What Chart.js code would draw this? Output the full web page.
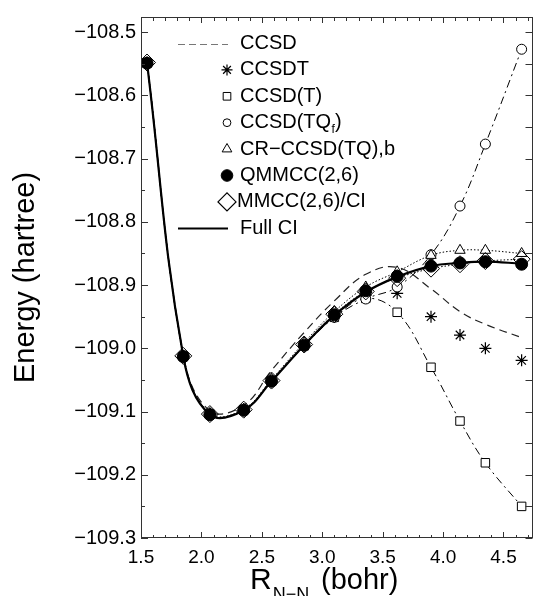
<!DOCTYPE html>
<html><head><meta charset="utf-8">
<script src="https://cdn.jsdelivr.net/npm/chart.js@4/dist/chart.umd.min.js"></script>
<style>html,body{margin:0;padding:0;background:#fff;}#wrap{position:relative;width:542px;height:596px;}</style>
</head><body><div id="wrap"><canvas id="c" width="542" height="596"></canvas></div>
<script>
// ---- data ----
const R = [1.55, 1.85, 2.07, 2.35, 2.58, 2.85, 3.10, 3.36, 3.62, 3.90, 4.14, 4.35, 4.65];
const fullCI    = [-108.549, -109.013, -109.105, -109.098, -109.052, -108.995, -108.948, -108.911, -108.887, -108.870, -108.865, -108.863, -108.866];
const ccsd      = [-108.548, -109.010, -109.099, -109.090, -109.035, -108.975, -108.925, -108.883, -108.872, -108.906, -108.942, -108.962, -108.983];
const ccsdt     = [-108.549, -109.013, -109.105, -109.098, -109.052, -108.996, -108.950, -108.916, -108.913, -108.950, -108.979, -109.000, -109.019];
const ccsdT     = [-108.549, -109.013, -109.104, -109.097, -109.052, -108.996, -108.951, -108.921, -108.943, -109.030, -109.115, -109.181, -109.250];
const ccsdTQf   = [-108.549, -109.013, -109.104, -109.097, -109.052, -108.996, -108.951, -108.922, -108.903, -108.852, -108.775, -108.677, -108.527];
const crccsdTQb = [-108.548, -109.012, -109.103, -109.096, -109.049, -108.991, -108.942, -108.903, -108.879, -108.853, -108.845, -108.845, -108.850];
const qmmcc26   = [-108.549, -109.013, -109.105, -109.098, -109.052, -108.995, -108.947, -108.909, -108.886, -108.870, -108.865, -108.863, -108.867];
const mmcc26CI  = [-108.548, -109.012, -109.104, -109.097, -109.051, -108.994, -108.946, -108.910, -108.889, -108.874, -108.867, -108.862, -108.859];
const xTickValues = [1.5, 2.0, 2.5, 3.0, 3.5, 4.0, 4.5];
const xTickLabels = ['1.5', '2.0', '2.5', '3.0', '3.5', '4.0', '4.5'];
const yTickValues = [-109.3, -109.2, -109.1, -109.0, -108.9, -108.8, -108.7, -108.6, -108.5];
const yTickLabels = ['\u2212109.3', '\u2212109.2', '\u2212109.1', '\u2212109.0', '\u2212108.9', '\u2212108.8', '\u2212108.7', '\u2212108.6', '\u2212108.5'];
const seriesNames = ['CCSD', 'CCSDT', 'CCSD(T)', 'CCSD(TQf)', 'CR\u2212CCSD(TQ),b', 'QMMCC(2,6)', 'MMCC(2,6)/CI', 'Full CI'];

const FONT = "'Liberation Sans', Arial, Helvetica, sans-serif";
const pts = arr => R.map((x, i) => ({x: x, y: arr[i]}));

const datasets = [
  {label: seriesNames[5], data: pts(qmmcc26), showLine: false, pointStyle: 'circle', pointRadius: 6,
   backgroundColor: '#000', borderColor: '#000', pointBorderWidth: 1},
  {label: seriesNames[7], data: pts(fullCI), showLine: true, pointRadius: 0, borderColor: '#000', borderWidth: 2.2, tension: 0.4},
  {label: seriesNames[6], data: pts(mmcc26CI), showLine: true, pointStyle: 'rectRot', pointRadius: 8.5,
   backgroundColor: 'rgba(255,255,255,0)', borderColor: '#000', pointBorderWidth: 1, borderWidth: 1, borderDash: [1.5, 2], tension: 0.4},
  {label: seriesNames[4], data: pts(crccsdTQb), showLine: true, pointStyle: 'triangle', pointRadius: 6,
   backgroundColor: '#fff', borderColor: '#000', pointBorderWidth: 1, borderWidth: 1, borderDash: [1.5, 2], tension: 0.4},
  {label: seriesNames[3], data: pts(ccsdTQf), showLine: true, pointStyle: 'circle', pointRadius: 5,
   backgroundColor: '#fff', borderColor: '#000', pointBorderWidth: 1, borderWidth: 1, borderDash: [8, 4, 2, 4], tension: 0.4},
  {label: seriesNames[2], data: pts(ccsdT), showLine: true, pointStyle: 'rect', pointRadius: 6,
   backgroundColor: '#fff', borderColor: '#000', pointBorderWidth: 1, borderWidth: 1, borderDash: [8, 4, 2, 4], tension: 0.4},
  {label: seriesNames[1], data: pts(ccsdt), showLine: false, pointStyle: 'star', pointRadius: 6,
   backgroundColor: '#000', borderColor: '#000', pointBorderWidth: 1.2},
  {label: seriesNames[0], data: pts(ccsd), showLine: true, pointRadius: 0, borderColor: '#222', borderWidth: 1.2, borderDash: [8, 5], tension: 0.4}
];

const legendStyles = [
  {type: 'line', dash: [7, 4], color: '#777', width: 1.2},
  {type: 'pt', pointStyle: 'star', radius: 5.5, fill: '#000', bw: 1.2},
  {type: 'pt', pointStyle: 'rect', radius: 5.4, fill: '#fff', bw: 1},
  {type: 'pt', pointStyle: 'circle', radius: 3.9, fill: '#fff', bw: 1},
  {type: 'pt', pointStyle: 'triangle', radius: 5.6, fill: '#fff', bw: 1},
  {type: 'pt', pointStyle: 'circle', radius: 5.8, fill: '#000', bw: 1},
  {type: 'pt', pointStyle: 'rectRot', radius: 9, fill: '#fff', bw: 1.2},
  {type: 'line', dash: [], color: '#000', width: 2}
];
const legendText = ['CCSD', 'CCSDT', 'CCSD(T)', ['CCSD(TQ', 'f', ')'], 'CR\u2212CCSD(TQ),b', 'QMMCC(2,6)', 'MMCC(2,6)/CI', 'Full CI'];

const decor = {
  id: 'decor',
  afterDraw(chart) {
    const ctx = chart.ctx, a = chart.chartArea, xs = chart.scales.x, ys = chart.scales.y;
    ctx.save();
    ctx.strokeStyle = '#333'; ctx.lineWidth = 1; ctx.setLineDash([]);
    ctx.strokeRect(Math.round(a.left) + 0.5, Math.round(a.top) + 0.5, Math.round(a.right - a.left) - 1, Math.round(a.bottom - a.top) - 1);
    ctx.beginPath();
    for (let i = 15; i <= 47; i++) {
      const px = Math.round(xs.getPixelForValue(i / 10)) + 0.5;
      const major = i % 5 === 0;
      ctx.moveTo(px, a.bottom); ctx.lineTo(px, a.bottom - (major ? 6 : 3));
      ctx.moveTo(px, a.top); ctx.lineTo(px, a.top + (major ? 6 : 4));
    }
    for (let j = 0; j <= 16; j++) {
      const py = Math.round(ys.getPixelForValue(-109.3 + j * 0.05)) + 0.5;
      const major = j % 2 === 0;
      ctx.moveTo(a.left, py); ctx.lineTo(a.left + (major ? 7 : 4), py);
      ctx.moveTo(a.right, py); ctx.lineTo(a.right - 7, py);
    }
    ctx.stroke();

    // legend
    const lx0 = 178, lx1 = 228, mx = 227, tx = 240, y0 = 43.5, dy = 26.4;
    ctx.font = '20px ' + FONT; ctx.textBaseline = 'middle'; ctx.textAlign = 'left'; ctx.fillStyle = '#000';
    legendStyles.forEach((s, i) => {
      const y = y0 + i * dy;
      if (s.type === 'line') {
        ctx.save(); ctx.strokeStyle = s.color; ctx.lineWidth = s.width; ctx.setLineDash(s.dash);
        ctx.beginPath(); ctx.moveTo(lx0, Math.round(y) + 0.5); ctx.lineTo(lx1, Math.round(y) + 0.5); ctx.stroke(); ctx.restore();
      } else {
        ctx.save(); ctx.fillStyle = s.fill; ctx.strokeStyle = '#000'; ctx.lineWidth = s.bw;
        Chart.helpers.drawPoint(ctx, {pointStyle: s.pointStyle, radius: s.radius, rotation: 0, borderWidth: s.bw}, mx, y);
        ctx.restore();
      }
      const t = legendText[i];
      const textX = (i === 6) ? tx - 3 : tx;
      if (Array.isArray(t)) {
        ctx.font = '20px ' + FONT; ctx.fillText(t[0], textX, y);
        let w = ctx.measureText(t[0]).width;
        ctx.font = '12px ' + FONT; ctx.fillText(t[1], textX + w + 0.5, y + 7);
        w += ctx.measureText(t[1]).width + 0.5;
        ctx.font = '20px ' + FONT; ctx.fillText(t[2], textX + w, y);
      } else {
        ctx.fillText(t, textX, y);
      }
    });

    // x-axis title with subscript
    ctx.textBaseline = 'alphabetic';
    ctx.font = '30px ' + FONT;
    ctx.fillText('R', 250, 589);
    const rw = ctx.measureText('R').width;
    ctx.font = '18px ' + FONT;
    ctx.fillText('N\u2212N', 250 + rw + 1, 600);
    ctx.font = '29px ' + FONT;
    ctx.fillText('(bohr)', 321, 589);
    ctx.restore();
  }
};

new Chart(document.getElementById('c'), {
  type: 'scatter',
  data: {datasets: datasets},
  options: {
    responsive: false, animation: false, devicePixelRatio: 1,
    layout: {padding: {top: 13, right: 1, left: 0, bottom: 0}},
    plugins: {legend: {display: false}, tooltip: {enabled: false}},
    scales: {
      x: {
        type: 'linear', min: 1.5, max: 4.74,
        grid: {display: false, drawTicks: false}, border: {display: false},
        afterBuildTicks: (s) => { s.ticks = xTickValues.map(v => ({value: v})); },
        ticks: {padding: 8, color: '#000', maxRotation: 0, autoSkip: false,
                font: {family: FONT, size: 19},
                callback: (v) => { const i = xTickValues.findIndex(t => Math.abs(t - v) < 1e-6); return i >= 0 ? xTickLabels[i] : ''; }},
        afterFit: (s) => { s.height = 58; }
      },
      y: {
        type: 'linear', min: -109.3, max: -108.476,
        grid: {display: false, drawTicks: false}, border: {display: false},
        afterBuildTicks: (s) => { s.ticks = yTickValues.map(v => ({value: v})); },
        ticks: {padding: 5, color: '#000', autoSkip: false,
                font: {family: FONT, size: 20},
                callback: (v) => { const i = yTickValues.findIndex(t => Math.abs(t - v) < 1e-6); return i >= 0 ? yTickLabels[i] : ''; }},
        title: {display: true, text: 'Energy (hartree)', color: '#000', font: {family: FONT, size: 29}, padding: {top: 9, bottom: 0}},
        afterFit: (s) => { s.width = 141; }
      }
    }
  },
  plugins: [decor]
});
</script></body></html>
